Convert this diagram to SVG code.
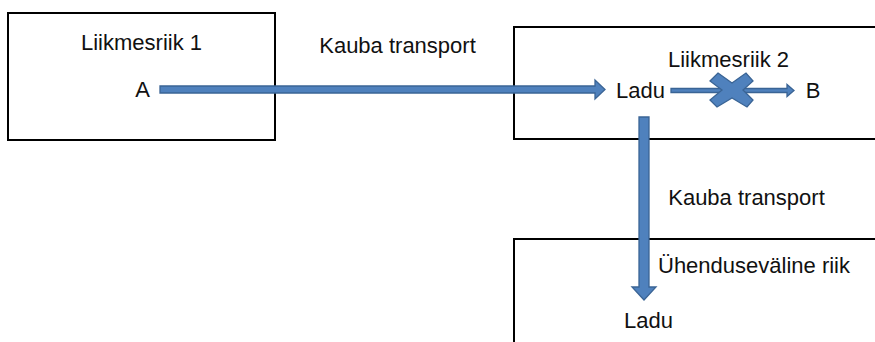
<svg xmlns="http://www.w3.org/2000/svg" width="875" height="342" viewBox="0 0 875 342">
<style>
.box{fill:none;stroke:#000;stroke-width:2}
.lbl{font-family:"Liberation Sans",Arial,sans-serif;font-size:22px;fill:#111;text-anchor:middle}
.arr{fill:#4f81bd;stroke:#3a6495;stroke-width:1.3;stroke-linejoin:miter}
</style>
<rect width="875" height="342" fill="#fff"/>
<g id="node-liikmesriik1">
<rect class="box" x="8" y="13" width="267" height="127"/>
<text class="lbl" x="141.5" y="50">Liikmesriik 1</text>
<text class="lbl" x="142.5" y="97">A</text>
</g>
<g id="node-liikmesriik2">
<rect class="box" x="514" y="27" width="380" height="112"/>
<text class="lbl" x="728.5" y="67">Liikmesriik 2</text>
<text class="lbl" x="640.5" y="98">Ladu</text>
<text class="lbl" x="813" y="98">B</text>
</g>
<g id="node-uhendusevaline">
<rect class="box" x="514" y="239" width="380" height="120"/>
<text class="lbl" x="754" y="273">Ühenduseväline riik</text>
<text class="lbl" x="648.5" y="328">Ladu</text>
</g>
<g id="connectors">
<polygon class="arr" points="160,86 595,86 595,80 605,89.5 595,99 595,93 160,93"/>
<polygon class="arr" points="671,88.5 787,88.5 787,84.5 794,90.5 787,96.5 787,92.5 671,92.5"/>
<polygon class="arr" points="718,73 732,83 746,73 753,81 743,90 753,100 747,107 732,98 717,107 710,100 722,90 710,81"/>
<polygon class="arr" points="639,117 649,117 649,287 656,287 644,300 632,287 639,287"/>
<text class="lbl" x="397.5" y="53">Kauba transport</text>
<text class="lbl" x="746.5" y="205">Kauba transport</text>
</g>
</svg>
